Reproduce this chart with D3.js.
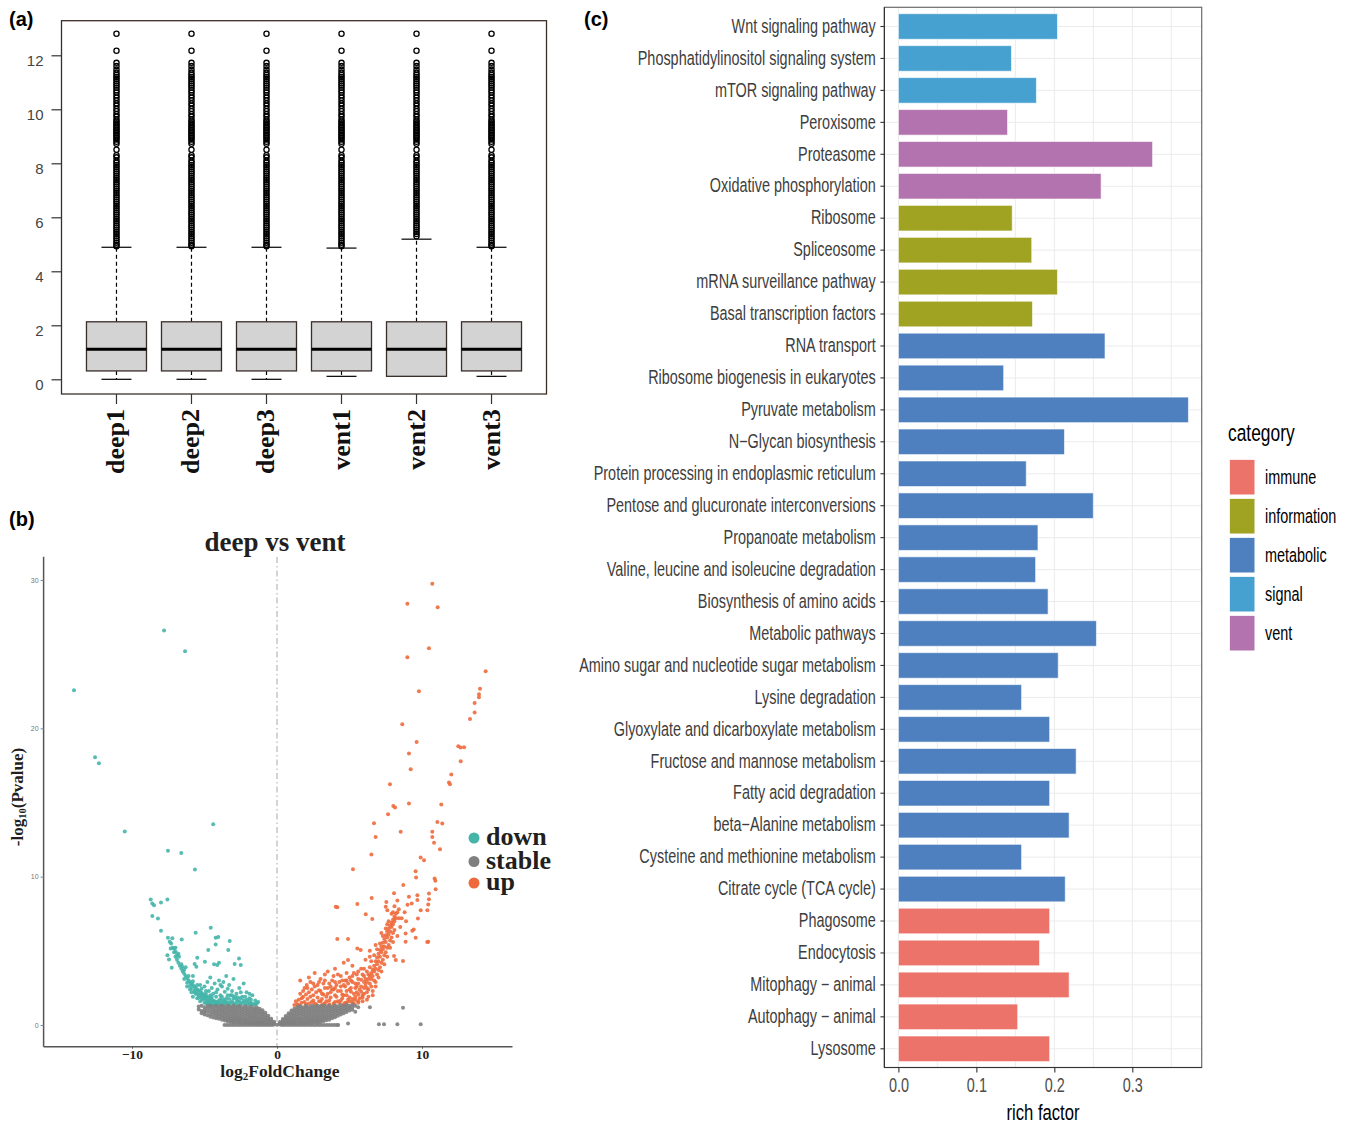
<!DOCTYPE html>
<html>
<head>
<meta charset="utf-8">
<script src="https://cdn.jsdelivr.net/npm/d3@7"></script>
<style>
  body { margin: 0; background: #fff; }
  svg { display: block; }
</style>
</head>
<body>
<svg id="fig" width="1349" height="1126"></svg>
<script>
// ---------- data: (a) boxplot ----------
const sampleNames = ["deep1", "deep2", "deep3", "vent1", "vent2", "vent3"];
const boxQ1 = [0.31, 0.31, 0.31, 0.31, 0.11, 0.31];
const boxMedian = [1.11, 1.11, 1.11, 1.11, 1.11, 1.11];
const boxQ3 = [2.13, 2.13, 2.13, 2.13, 2.13, 2.13];
const whiskerLow = [0, 0, 0, 0.11, 0.11, 0.11];
const whiskerHigh = [4.89, 4.89, 4.89, 4.86, 5.19, 4.89];
// outliers look the same in every sample (dense column above the whisker)
const outlierValues = [12.8, 12.17, 11.72, 11.6, 11.47, 11.36, 11.27, 11.2, 11.12, 11.04, 10.96, 10.88,
  10.8, 10.71, 10.62, 10.52, 10.43, 10.33, 10.22, 10.13, 10.02, 9.93, 9.82, 9.73, 9.62, 9.55, 9.48,
  9.42, 9.36, 9.3, 9.24, 9.18, 9.12, 9.06, 9.0, 8.94, 8.88, 8.8, 8.72, 8.5, 8.3, 8.22, 8.1, 8.02,
  7.94, 7.86, 7.78, 7.7, 7.62, 7.54, 7.46, 7.38, 7.3, 7.22, 7.14, 7.06, 6.98, 6.9, 6.82, 6.74, 6.66,
  6.58, 6.5, 6.42, 6.34, 6.26, 6.18, 6.1, 6.02, 5.94, 5.86, 5.78, 5.7, 5.62, 5.54, 5.46, 5.38, 5.3,
  5.22, 5.14, 5.06, 4.98, 4.93];
const boxTicks = [0, 2, 4, 6, 8, 10, 12];

// ---------- data: (b) volcano ----------
const volcanoGroups = ["down", "stable", "up"];
const volcanoColors = ["#45b5aa", "#7f7f7f", "#ee6a3c"];
const volcanoXTicks = [-10, 0, 10];
const volcanoYTicks = [0, 10, 20, 30];
// stable genes, as columns [log2FC, [-log10 p ...]]
const stableCols = [
  [-5.4, [1.25, 1.05]], [-5.2, [1.3, 0.95, 0.8]], [-5.0, [1.2, 1.0, 0.85, 0.7]],
  [-4.8, [1.28, 1.1, 0.9, 0.65]], [-4.6, [1.3, 1.15, 0.95, 0.75, 0.55]],
  [-4.4, [1.22, 1.05, 0.88, 0.7, 0.5]], [-4.2, [1.3, 1.12, 0.95, 0.8, 0.62, 0.45]],
  [-4.0, [1.25, 1.08, 0.92, 0.75, 0.58, 0.42]], [-3.8, [1.3, 1.15, 1.0, 0.85, 0.68, 0.52, 0.36]],
  [-3.6, [1.22, 1.06, 0.9, 0.74, 0.58, 0.42, 0.3]], [-3.4, [1.3, 1.14, 0.98, 0.82, 0.66, 0.5, 0.35, 0.24]],
  [-3.2, [1.25, 1.08, 0.92, 0.76, 0.6, 0.44, 0.3, 0.2]], [-3.0, [1.3, 1.15, 1.0, 0.84, 0.68, 0.52, 0.38, 0.25, 0.16]],
  [-2.8, [1.22, 1.06, 0.9, 0.74, 0.58, 0.44, 0.3, 0.18]], [-2.6, [1.28, 1.12, 0.96, 0.8, 0.64, 0.48, 0.34, 0.22, 0.14]],
  [-2.4, [1.2, 1.04, 0.88, 0.72, 0.56, 0.42, 0.28, 0.16]], [-2.2, [1.26, 1.1, 0.94, 0.78, 0.62, 0.46, 0.32, 0.2, 0.12]],
  [-2.0, [1.18, 1.02, 0.86, 0.7, 0.54, 0.4, 0.26, 0.14]], [-1.8, [1.24, 1.08, 0.92, 0.76, 0.6, 0.45, 0.3, 0.18, 0.1]],
  [-1.6, [1.15, 1.0, 0.84, 0.68, 0.52, 0.38, 0.24, 0.12]], [-1.4, [1.2, 1.05, 0.9, 0.74, 0.58, 0.42, 0.28, 0.16, 0.08]],
  [-1.2, [1.1, 0.95, 0.8, 0.64, 0.48, 0.34, 0.2, 0.1]], [-1.0, [1.0, 0.85, 0.7, 0.55, 0.4, 0.26, 0.14, 0.06]],
  [-0.8, [0.82, 0.66, 0.5, 0.36, 0.22, 0.1]], [-0.6, [0.62, 0.48, 0.34, 0.2, 0.08]],
  [-0.4, [0.42, 0.3, 0.18, 0.06]], [-0.2, [0.22, 0.12, 0.04]], [0.0, [0.02]],
  [0.2, [0.2, 0.1, 0.04]], [0.4, [0.4, 0.28, 0.16, 0.06]], [0.6, [0.6, 0.46, 0.32, 0.18, 0.08]],
  [0.8, [0.8, 0.64, 0.48, 0.34, 0.2, 0.1]], [1.0, [0.98, 0.82, 0.66, 0.5, 0.36, 0.22, 0.1]],
  [1.2, [1.1, 0.94, 0.78, 0.62, 0.46, 0.32, 0.18, 0.08]], [1.4, [1.22, 1.06, 0.9, 0.74, 0.58, 0.42, 0.28, 0.14]],
  [1.6, [1.28, 1.12, 0.96, 0.8, 0.64, 0.48, 0.34, 0.2, 0.1]], [1.8, [1.2, 1.04, 0.88, 0.72, 0.56, 0.4, 0.26, 0.14]],
  [2.0, [1.3, 1.14, 0.98, 0.82, 0.66, 0.5, 0.36, 0.22, 0.12]], [2.2, [1.22, 1.06, 0.9, 0.74, 0.58, 0.42, 0.28, 0.16]],
  [2.4, [1.3, 1.14, 0.98, 0.82, 0.66, 0.5, 0.36, 0.24, 0.14]], [2.6, [1.24, 1.08, 0.92, 0.76, 0.6, 0.44, 0.3, 0.18]],
  [2.8, [1.3, 1.15, 1.0, 0.84, 0.68, 0.52, 0.38, 0.26, 0.16]], [3.0, [1.26, 1.1, 0.94, 0.78, 0.62, 0.46, 0.32, 0.2]],
  [3.2, [1.32, 1.16, 1.0, 0.84, 0.68, 0.52, 0.38, 0.26]], [3.4, [1.25, 1.08, 0.92, 0.76, 0.6, 0.45, 0.32]],
  [3.6, [1.3, 1.14, 0.98, 0.82, 0.66, 0.5, 0.36]], [3.8, [1.24, 1.08, 0.92, 0.76, 0.6, 0.45]],
  [4.0, [1.32, 1.16, 1.0, 0.84, 0.68, 0.52]], [4.2, [1.26, 1.1, 0.94, 0.78, 0.62]],
  [4.4, [1.34, 1.18, 1.02, 0.86, 0.7]], [4.6, [1.28, 1.12, 0.96, 0.8]], [4.8, [1.36, 1.2, 1.04, 0.88]],
  [5.0, [1.3, 1.14, 0.98]], [5.2, [1.38, 1.2, 1.02]], [5.4, [1.3, 0.9]]
];
// stable genes lying on -log10 p = 0
const stableZeroFc = [-3.62, -3.45, -3.28, -3.1, -2.93, -2.76, -2.58, -2.41, -2.24, -2.06, -1.89, -1.72,
  -1.54, -1.37, -1.2, -1.02, -0.85, -0.68, -0.5, -0.33, 0.33, 0.5, 0.68, 0.85, 1.02, 1.2, 1.37, 1.54,
  1.72, 1.89, 2.06, 2.24, 2.41, 2.58, 2.76, 2.93, 3.1, 3.28, 3.45, 3.62, 3.8, 3.97, 4.14, 4.22];
const stableExtra = [[5.6, 1.2], [6.41, 1.19], [8.69, 1.17], [4.9, 0.1], [7.03, 0.05], [7.38, 0.05],
  [8.3, 0.05], [9.91, 0.05]];
const downPts = [
  [-14.0, 22.56], [-7.79, 26.6], [-6.34, 25.2], [-12.55, 18.05], [-12.28, 17.64], [-10.5, 13.04],
  [-4.4, 13.54], [-7.52, 11.74], [-6.6, 11.6], [-5.66, 10.48], [-8.71, 8.46], [-8.6, 8.19], [-8.48, 8.08],
  [-8.0, 8.26], [-7.56, 8.46], [-8.6, 7.34], [-8.21, 7.18], [-8.0, 6.35], [-5.61, 6.22], [-4.57, 6.55],
  [-7.52, 5.88], [-7.22, 5.84], [-7.4, 5.61], [-6.57, 5.77], [-4.23, 5.88], [-4.05, 5.93], [-4.23, 5.43],
  [-3.26, 5.66], [-7.33, 5.16], [-7.1, 5.16], [-6.99, 4.94], [-7.56, 4.71], [-7.45, 4.42], [-6.76, 4.6],
  [-4.74, 5.05], [-3.36, 5.05], [-5.5, 4.53], [-4.97, 4.26], [-4.0, 4.2], [-4.12, 4.04], [-4.34, 4.09],
  [-2.62, 4.49], [-2.92, 4.11], [-2.5, 4.04], [-7.26, 3.86], [-6.53, 3.93], [-6.41, 3.7], [-5.68, 4.11],
  [-5.56, 3.93],
  [-7.3, 5.5], [-7.2, 5.2], [-7.1, 4.9], [-7.0, 4.6], [-6.9, 4.4], [-6.8, 4.2], [-6.7, 4.0], [-6.6, 3.8],
  [-6.5, 3.6], [-6.4, 3.45], [-6.3, 3.3], [-6.2, 3.15], [-6.1, 3.0], [-6.0, 2.9], [-5.9, 2.8], [-5.8, 2.7],
  [-5.7, 2.6], [-5.6, 2.5], [-5.5, 2.4], [-5.4, 2.32], [-5.3, 2.24], [-5.2, 2.16], [-5.1, 2.08], [-5.0, 2.0],
  [-4.9, 1.94], [-4.8, 1.88], [-4.7, 1.82], [-4.6, 1.76], [-4.5, 1.7], [-4.4, 1.65], [-4.3, 1.6],
  [-4.2, 1.56], [-4.1, 1.52], [-4.0, 1.48], [-3.8, 1.42], [-3.6, 1.38],
  [-6.2, 2.6], [-6.0, 2.4], [-5.9, 2.2], [-5.8, 1.9], [-5.7, 2.35], [-5.6, 2.1], [-5.5, 1.8], [-5.4, 2.05],
  [-5.3, 1.6], [-5.2, 1.9], [-5.1, 1.75], [-5.0, 1.5], [-4.9, 1.7], [-4.8, 1.45], [-4.7, 1.6], [-4.6, 1.4],
  [-4.5, 1.55], [-4.4, 1.38], [-4.3, 1.5], [-4.2, 1.36],
  [-5.0, 2.6], [-4.8, 2.9], [-4.7, 2.3], [-4.6, 3.2], [-4.5, 2.5], [-4.4, 2.1], [-4.3, 2.8], [-4.2, 1.9],
  [-4.1, 2.4], [-4.0, 3.0], [-3.9, 2.0], [-3.8, 2.6], [-3.7, 1.7], [-3.6, 2.25], [-3.5, 3.3], [-3.5, 1.55],
  [-3.4, 2.0], [-3.3, 2.7], [-3.2, 1.5], [-3.1, 2.3], [-3.0, 1.8], [-3.0, 3.1], [-2.9, 1.45], [-2.8, 2.1],
  [-2.7, 1.6], [-2.6, 2.5], [-2.5, 1.4], [-2.4, 1.9], [-2.3, 2.8], [-2.2, 1.55], [-2.1, 2.2], [-2.0, 1.4],
  [-1.9, 1.8], [-1.8, 1.5], [-1.7, 2.0], [-1.6, 1.4], [-1.5, 1.65], [-1.4, 1.45], [-1.3, 1.55], [-3.9, 1.4],
  [-3.3, 1.4], [-2.6, 1.35], [-3.7, 2.9], [-4.9, 2.3], [-5.3, 2.7], [-5.8, 3.3], [-6.3, 3.9], [-6.8, 4.8],
  [-4.6, 2.0], [-3.8, 1.9], [-2.8, 1.7],
  [-6.4, 3.1], [-6.2, 2.85], [-6.0, 2.65], [-5.9, 2.5], [-5.7, 2.2], [-5.6, 2.3], [-5.5, 2.1], [-5.4, 1.85],
  [-5.3, 2.0], [-5.2, 1.7], [-5.1, 1.95], [-5.0, 1.8], [-4.9, 1.5], [-4.8, 1.65], [-4.7, 1.45], [-4.6, 1.6],
  [-4.5, 1.4], [-4.4, 1.5], [-4.3, 1.4], [-4.1, 1.4], [-4.0, 1.65], [-3.9, 1.75], [-3.8, 1.55], [-3.7, 1.45],
  [-3.6, 1.6], [-3.5, 1.8], [-3.4, 1.5], [-3.3, 1.75], [-3.2, 2.0], [-3.1, 1.6], [-3.0, 1.45], [-2.9, 1.9],
  [-2.8, 1.4], [-2.7, 1.85], [-2.6, 1.6], [-2.5, 1.8], [-2.4, 1.5], [-2.3, 1.65], [-2.2, 1.4], [-2.1, 1.7],
  [-2.0, 1.6], [-1.9, 1.45], [-1.8, 1.7], [-1.7, 1.4], [-1.5, 1.4], [-6.1, 3.3], [-6.6, 4.1], [-6.9, 4.7],
  [-7.0, 5.2], [-5.8, 2.95], [-5.5, 2.7], [-5.2, 2.45], [-4.9, 2.1], [-4.5, 1.9], [-4.2, 2.2], [-3.9, 2.7],
  [-3.4, 2.45], [-3.1, 2.0], [-2.5, 2.2], [-2.2, 1.9], [-1.9, 2.1]
];
const upPts = [
  [10.71, 29.74], [8.99, 28.4], [11.08, 28.17], [10.48, 25.4], [8.99, 24.8], [14.39, 23.84], [14.0, 22.67],
  [13.93, 22.3], [13.93, 22.1], [13.63, 21.7], [9.79, 22.5], [13.63, 21.06], [13.31, 20.63], [8.64, 20.27],
  [9.63, 19.08], [12.5, 18.8], [12.67, 18.7], [12.9, 18.72], [9.1, 18.3], [12.67, 17.78], [9.22, 17.24],
  [12.02, 16.88], [11.86, 16.34], [11.93, 16.23], [7.79, 16.23], [8.02, 14.77], [8.14, 14.66], [9.1, 14.93],
  [11.33, 14.86], [7.66, 14.2], [6.69, 13.6], [11.06, 13.69], [11.4, 13.58], [6.8, 12.68], [8.53, 13.02],
  [10.71, 13.02], [10.71, 12.68], [10.83, 12.28], [11.24, 11.85], [6.51, 11.49], [9.91, 11.29], [10.14, 11.11],
  [5.24, 10.5], [9.56, 10.37], [9.59, 9.94], [10.87, 9.88], [10.92, 9.72], [8.71, 9.43], [8.07, 8.89],
  [10.94, 9.16], [10.48, 8.87], [10.48, 8.48], [10.43, 8.13], [10.37, 7.74], [9.68, 8.75], [9.68, 8.42],
  [9.1, 8.64], [9.29, 8.19], [5.54, 8.15], [6.53, 8.57], [7.54, 8.3], [7.5, 7.97], [7.61, 7.74], [4.05, 7.97],
  [4.16, 7.93], [6.12, 7.47], [6.57, 7.14], [9.91, 7.74], [9.72, 7.18], [9.43, 6.44], [9.33, 6.35],
  [8.87, 6.17], [8.87, 5.61], [9.56, 5.88], [10.43, 5.61], [10.36, 5.59], [4.16, 5.79], [4.9, 5.79],
  [5.54, 5.16], [5.77, 5.05], [4.9, 4.38], [8.69, 4.31], [8.07, 4.65], [8.19, 4.38],
  [4.6, 1.4], [4.8, 1.5], [5.0, 1.6], [5.2, 1.75], [5.4, 1.9], [5.6, 2.05], [5.8, 2.25], [6.0, 2.5],
  [6.1, 2.7], [6.2, 2.9], [6.3, 3.1], [6.4, 3.3], [6.5, 3.5], [6.6, 3.75], [6.7, 4.0], [6.8, 4.3],
  [6.9, 4.55], [7.0, 4.8], [7.1, 5.05], [7.2, 5.3], [7.3, 5.55], [7.4, 5.8], [7.5, 6.05], [7.6, 6.3],
  [7.7, 6.5], [7.8, 6.7], [7.9, 6.9], [8.0, 7.1], [8.1, 7.3], [8.2, 7.5],
  [4.2, 1.6], [4.5, 1.8], [4.8, 2.0], [5.1, 2.25], [5.4, 2.5], [5.6, 2.8], [5.8, 3.05], [6.0, 3.3],
  [6.2, 3.6], [6.4, 3.9], [6.5, 4.3], [6.7, 4.7], [6.9, 5.1], [7.1, 5.5], [7.3, 6.0], [7.5, 6.5],
  [7.7, 7.0], [7.9, 7.5], [8.1, 8.0], [8.3, 8.4],
  [5.3, 1.45], [5.6, 1.6], [5.9, 1.85], [6.2, 2.2], [6.5, 2.6], [6.7, 3.0], [6.9, 3.4], [7.1, 3.9],
  [7.3, 4.4], [7.5, 4.9], [7.7, 5.4], [7.9, 5.9], [8.1, 6.4],
  [1.4, 1.4], [1.5, 1.7], [1.6, 2.1], [1.7, 1.5], [1.8, 1.9], [1.9, 2.5], [2.0, 1.4], [2.1, 1.75],
  [2.2, 2.2], [2.3, 2.9], [2.4, 1.55], [2.5, 2.0], [2.6, 2.6], [2.7, 1.4], [2.8, 1.85], [2.9, 2.35],
  [3.0, 3.1], [3.0, 1.6], [3.1, 2.1], [3.2, 2.8], [3.3, 1.45], [3.4, 1.9], [3.5, 2.5], [3.5, 3.6],
  [3.6, 1.65], [3.7, 2.2], [3.8, 3.0], [3.9, 1.45], [4.0, 2.0], [4.1, 2.7], [4.2, 3.4], [4.3, 1.5],
  [4.4, 2.3], [4.5, 3.0], [4.6, 2.0], [4.7, 2.6], [4.8, 3.5], [4.9, 1.7], [5.0, 2.4], [5.1, 3.0],
  [5.2, 4.0], [5.3, 2.1], [5.4, 2.8], [5.5, 3.4], [5.6, 1.5], [5.7, 2.4], [5.8, 3.8], [5.9, 2.0],
  [6.0, 2.9], [6.1, 4.4], [6.2, 1.7], [6.3, 2.4], [6.4, 5.0], [6.6, 2.0], [6.8, 2.6], [7.0, 3.2],
  [7.2, 3.6], [7.4, 4.1], [7.6, 4.6], [7.8, 5.2], [8.0, 5.6], [8.3, 6.0], [8.5, 6.6], [8.6, 7.2],
  [8.8, 7.6], [9.0, 8.1], [8.4, 7.8], [8.9, 7.0], [2.2, 3.2], [1.6, 3.0], [2.6, 3.5], [3.3, 3.4],
  [4.0, 3.8], [4.6, 4.2], [3.1, 1.35], [3.9, 2.4], [2.05, 2.7], [1.3, 1.6], [1.2, 1.35],
  [1.5, 1.35], [1.7, 1.8], [1.9, 1.55], [2.0, 2.05], [2.2, 1.45], [2.3, 1.9], [2.4, 2.4], [2.5, 1.65],
  [2.6, 1.45], [2.7, 2.2], [2.8, 2.7], [2.9, 1.6], [3.0, 2.3], [3.1, 1.75], [3.2, 2.05], [3.2, 1.4],
  [3.3, 2.5], [3.4, 1.6], [3.5, 2.1], [3.6, 2.8], [3.6, 1.4], [3.7, 1.85], [3.8, 2.4], [3.9, 3.3],
  [4.0, 1.55], [4.0, 2.5], [4.1, 1.9], [4.2, 2.3], [4.3, 2.9], [4.4, 1.65], [4.4, 3.3], [4.5, 2.05],
  [4.6, 2.7], [4.7, 1.5], [4.7, 3.0], [4.8, 2.3], [4.9, 2.8], [5.0, 1.85], [5.0, 3.2], [5.1, 2.5],
  [5.2, 1.55], [5.2, 2.9], [5.3, 3.5], [5.4, 1.7], [5.5, 2.2], [5.5, 2.6], [5.6, 3.1], [5.7, 1.8],
  [5.8, 2.6], [5.9, 3.4], [5.9, 1.6], [6.0, 2.1], [6.1, 3.1], [6.2, 2.5], [6.3, 3.4], [6.3, 1.9],
  [6.4, 2.8], [6.5, 3.1], [6.6, 3.3], [6.6, 2.3], [6.7, 3.6], [6.8, 3.8], [6.8, 2.9], [6.9, 4.1],
  [7.0, 4.3], [7.0, 3.7], [7.1, 4.6], [7.2, 4.9], [7.2, 4.2], [7.3, 5.1], [7.4, 5.3], [7.4, 4.7],
  [7.5, 5.6], [7.6, 5.9], [7.6, 5.2], [7.7, 6.1], [7.8, 6.3], [7.8, 5.7], [7.9, 6.6], [8.0, 6.8],
  [8.0, 6.2], [8.1, 7.0], [8.2, 7.2], [8.3, 7.6], [8.4, 7.2], [8.0, 7.6], [7.6, 6.8], [7.2, 6.2],
  [6.8, 5.4], [6.4, 4.6], [6.0, 3.8], [5.6, 3.6], [5.2, 3.3], [4.8, 3.0], [4.4, 2.6], [4.0, 2.9],
  [3.7, 2.6], [3.3, 3.0], [2.9, 2.9], [2.5, 2.8], [2.1, 2.5], [1.8, 2.3]
];

// ---------- data: (c) enrichment ----------
const pathways = ["Wnt signaling pathway", "Phosphatidylinositol signaling system", "mTOR signaling pathway",
  "Peroxisome", "Proteasome", "Oxidative phosphorylation", "Ribosome", "Spliceosome",
  "mRNA surveillance pathway", "Basal transcription factors", "RNA transport",
  "Ribosome biogenesis in eukaryotes", "Pyruvate metabolism", "N\u2212Glycan biosynthesis",
  "Protein processing in endoplasmic reticulum", "Pentose and glucuronate interconversions",
  "Propanoate metabolism", "Valine, leucine and isoleucine degradation", "Biosynthesis of amino acids",
  "Metabolic pathways", "Amino sugar and nucleotide sugar metabolism", "Lysine degradation",
  "Glyoxylate and dicarboxylate metabolism", "Fructose and mannose metabolism", "Fatty acid degradation",
  "beta\u2212Alanine metabolism", "Cysteine and methionine metabolism", "Citrate cycle (TCA cycle)",
  "Phagosome", "Endocytosis", "Mitophagy \u2212 animal", "Autophagy \u2212 animal", "Lysosome"];
const pathwayCategory = ["signal", "signal", "signal", "vent", "vent", "vent", "information", "information",
  "information", "information", "metabolic", "metabolic", "metabolic", "metabolic", "metabolic", "metabolic",
  "metabolic", "metabolic", "metabolic", "metabolic", "metabolic", "metabolic", "metabolic", "metabolic",
  "metabolic", "metabolic", "metabolic", "metabolic", "immune", "immune", "immune", "immune", "immune"];
const richFactor = [0.204, 0.145, 0.177, 0.140, 0.326, 0.260, 0.146, 0.171, 0.204, 0.172, 0.265, 0.135,
  0.372, 0.213, 0.164, 0.250, 0.179, 0.176, 0.192, 0.254, 0.205, 0.158, 0.194, 0.228, 0.194, 0.219,
  0.158, 0.214, 0.194, 0.181, 0.219, 0.153, 0.194];
const categories = ["immune", "information", "metabolic", "signal", "vent"];
const categoryColors = ["#ec736a", "#a0a222", "#4e80bf", "#46a0d0", "#b373ae"];
const richTicks = [0, 0.1, 0.2, 0.3];
const richGrid = [0, 0.05, 0.1, 0.15, 0.2, 0.25, 0.3, 0.35];

// ---------- drawing ----------
const svg = d3.select("#fig");
svg.append("rect").attr("width", 1349).attr("height", 1126).attr("fill", "#fff");

const SERIF = "'Liberation Serif', 'Times New Roman', serif";
const SANS = "'Liberation Sans', Arial, sans-serif";
const NARROW = 0.74;

function panelTag(x, y, t) {
  svg.append("text").attr("x", x).attr("y", y).attr("font-family", SANS)
    .attr("font-weight", "bold").attr("font-size", 20).attr("fill", "#000").text(t);
}
panelTag(9, 26, "(a)");
panelTag(9, 526, "(b)");
panelTag(584, 26, "(c)");

// ===== (a) boxplot =====
function drawBoxplot() {
  const g = svg.append("g");
  const x = d3.scaleBand().domain(sampleNames).range([61.5, 546.5])
    .paddingInner(0.2).paddingOuter(0.333);
  const y = d3.scaleLinear().domain([0, 12]).range([379.3, 55.3]);
  const bw = x.bandwidth();

  const boxes = sampleNames.map((s, i) => ({
    name: s, q1: boxQ1[i], med: boxMedian[i], q3: boxQ3[i], lo: whiskerLow[i], hi: whiskerHigh[i]
  }));

  const b = g.selectAll(".bx").data(boxes).enter().append("g");
  const cx = d => x(d.name) + bw / 2;

  // whiskers
  b.append("line").attr("x1", cx).attr("x2", cx)
    .attr("y1", d => y(d.q3)).attr("y2", d => y(d.hi))
    .attr("stroke", "#000").attr("stroke-width", 1.2).attr("stroke-dasharray", "4,3");
  b.append("line").attr("x1", cx).attr("x2", cx)
    .attr("y1", d => y(d.q1)).attr("y2", d => y(d.lo))
    .attr("stroke", "#000").attr("stroke-width", 1.2).attr("stroke-dasharray", "4,3");
  b.append("line").attr("x1", d => cx(d) - bw / 4).attr("x2", d => cx(d) + bw / 4)
    .attr("y1", d => y(d.hi)).attr("y2", d => y(d.hi)).attr("stroke", "#000").attr("stroke-width", 1.2);
  b.append("line").attr("x1", d => cx(d) - bw / 4).attr("x2", d => cx(d) + bw / 4)
    .attr("y1", d => y(d.lo)).attr("y2", d => y(d.lo)).attr("stroke", "#000").attr("stroke-width", 1.2);

  // boxes
  b.append("rect").attr("x", d => x(d.name)).attr("width", bw)
    .attr("y", d => y(d.q3)).attr("height", d => y(d.q1) - y(d.q3))
    .attr("fill", "#d3d3d3").attr("stroke", "#3a2e2a").attr("stroke-width", 1.3);
  b.append("line").attr("x1", d => x(d.name)).attr("x2", d => x(d.name) + bw)
    .attr("y1", d => y(d.med)).attr("y2", d => y(d.med))
    .attr("stroke", "#000").attr("stroke-width", 3);

  // outliers
  b.each(function (d) {
    d3.select(this).selectAll("circle")
      .data(outlierValues.filter(v => v > d.hi + 0.03))
      .enter().append("circle")
      .attr("cx", cx(d)).attr("cy", v => y(v)).attr("r", 2.6)
      .attr("fill", "none").attr("stroke", "#000").attr("stroke-width", 1.3);
  });

  // frame
  g.append("rect").attr("x", 61.5).attr("y", 20.7).attr("width", 485).attr("height", 373.3)
    .attr("fill", "none").attr("stroke", "#3c3028").attr("stroke-width", 1.3);

  // y axis
  const ya = g.append("g").attr("transform", "translate(61.5,0)")
    .call(d3.axisLeft(y).tickValues(boxTicks).tickSize(10).tickPadding(8).tickFormat(d3.format("d")));
  ya.select(".domain").remove();
  ya.selectAll("line").attr("stroke", "#333").attr("stroke-width", 1.2);
  ya.selectAll("text").attr("font-family", SANS).attr("font-size", 15).attr("fill", "#444")
    .attr("dy", "0.65em");

  // x ticks and labels
  g.selectAll(".xt").data(sampleNames).enter().append("line")
    .attr("x1", d => x(d) + bw / 2).attr("x2", d => x(d) + bw / 2)
    .attr("y1", 394).attr("y2", 404).attr("stroke", "#333").attr("stroke-width", 1.2);
  g.selectAll(".xl").data(sampleNames).enter().append("text")
    .attr("transform", d => `translate(${x(d) + bw / 2 + 8},409) rotate(-90)`)
    .attr("text-anchor", "end").attr("font-family", SERIF).attr("font-weight", "bold")
    .attr("font-size", 26).attr("fill", "#111").text(d => d);
}
drawBoxplot();

// ===== (b) volcano =====
function drawVolcano() {
  const g = svg.append("g");
  const x = d3.scaleLinear().domain([-10, 10]).range([132, 422]);
  const y = d3.scaleLinear().domain([0, 30]).range([1025, 580]);
  const color = d3.scaleOrdinal().domain(volcanoGroups).range(volcanoColors);

  const stable = [];
  stableCols.forEach(([fc, ps]) => ps.forEach(p => stable.push([fc, p])));
  stableZeroFc.forEach(fc => stable.push([fc, 0]));
  stableExtra.forEach(d => stable.push(d));

  // dashed line at 0
  g.append("line").attr("x1", x(0)).attr("x2", x(0)).attr("y1", 557).attr("y2", 1046)
    .attr("stroke", "#bdbdbd").attr("stroke-width", 1.3).attr("stroke-dasharray", "6,3,1.5,3");

  const layers = [["down", downPts], ["up", upPts], ["stable", stable]];
  layers.forEach(([grp, pts]) => {
    g.append("g").selectAll("circle").data(pts).enter().append("circle")
      .attr("cx", d => x(d[0])).attr("cy", d => y(d[1])).attr("r", 2)
      .attr("fill", color(grp)).attr("opacity", 0.9);
  });

  // axes
  g.append("line").attr("x1", 43.6).attr("x2", 43.6).attr("y1", 556.7).attr("y2", 1046.7)
    .attr("stroke", "#555").attr("stroke-width", 1.5);
  g.append("line").attr("x1", 43.6).attr("x2", 512.5).attr("y1", 1046.7).attr("y2", 1046.7)
    .attr("stroke", "#555").attr("stroke-width", 1.5);

  const ya = g.append("g").attr("transform", "translate(43.6,0)")
    .call(d3.axisLeft(y).tickValues(volcanoYTicks).tickSize(3).tickPadding(2));
  ya.select(".domain").remove();
  ya.selectAll("line").attr("stroke", "#888");
  ya.selectAll("text").attr("font-family", SANS).attr("font-size", 7).attr("fill", "#777");

  const xa = g.append("g").attr("transform", "translate(0,1046.7)")
    .call(d3.axisBottom(x).tickValues(volcanoXTicks).tickSize(2).tickPadding(1));
  xa.select(".domain").remove();
  xa.selectAll("line").attr("stroke", "#555");
  xa.selectAll("text").attr("font-family", SERIF).attr("font-weight", "bold")
    .attr("font-size", 13.5).attr("fill", "#222");

  // title & labels
  g.append("text").attr("x", 275).attr("y", 551).attr("text-anchor", "middle")
    .attr("font-family", SERIF).attr("font-weight", "bold").attr("font-size", 27)
    .attr("fill", "#231f20").text("deep vs vent");

  const xl = g.append("text").attr("x", 280).attr("y", 1077).attr("text-anchor", "middle")
    .attr("font-family", SERIF).attr("font-weight", "bold").attr("font-size", 17.5).attr("fill", "#231f20");
  xl.append("tspan").text("log");
  xl.append("tspan").attr("font-size", 11).attr("dy", 3).text("2");
  xl.append("tspan").attr("dy", -3).text("FoldChange");

  const yl = g.append("text").attr("transform", "translate(23,797) rotate(-90)")
    .attr("text-anchor", "middle").attr("font-family", SERIF).attr("font-weight", "bold")
    .attr("font-size", 17).attr("fill", "#231f20");
  yl.append("tspan").text("-log");
  yl.append("tspan").attr("font-size", 10.5).attr("dy", 3).text("10");
  yl.append("tspan").attr("dy", -3).text("(Pvalue)");

  // legend
  const lg = g.append("g");
  const ly = [838, 861.5, 883];
  volcanoGroups.forEach((grp, i) => {
    lg.append("circle").attr("cx", 474).attr("cy", ly[i]).attr("r", 5.5).attr("fill", color(grp));
    lg.append("text").attr("x", 486).attr("y", ly[i] + 7).attr("font-family", SERIF)
      .attr("font-weight", "bold").attr("font-size", 26).attr("fill", "#231f20").text(grp);
  });
}
drawVolcano();

// ===== (c) enrichment bars =====
function drawEnrichment() {
  const g = svg.append("g");
  const left = 884.4, right = 1201.7, top = 7.3, bottom = 1067.5;
  const x = d3.scaleLinear().domain([0, 0.3]).range([898.4, 1132.3]);
  const y = d3.scaleBand().domain(pathways).range([10.53, 1064.77]).paddingInner(0.2).paddingOuter(0.1);
  const color = d3.scaleOrdinal().domain(categories).range(categoryColors);

  const rows = pathways.map((p, i) => ({ name: p, cat: pathwayCategory[i], v: richFactor[i] }));

  // grid
  g.selectAll(".gv").data(richGrid).enter().append("line")
    .attr("x1", d => x(d)).attr("x2", d => x(d)).attr("y1", top).attr("y2", bottom)
    .attr("stroke", "#ebebeb").attr("stroke-width", 1);
  g.selectAll(".gh").data(pathways).enter().append("line")
    .attr("x1", left).attr("x2", right)
    .attr("y1", d => y(d) + y.bandwidth() / 2).attr("y2", d => y(d) + y.bandwidth() / 2)
    .attr("stroke", "#ebebeb").attr("stroke-width", 1);

  // bars
  g.selectAll(".bar").data(rows).enter().append("rect")
    .attr("x", x(0)).attr("y", d => y(d.name))
    .attr("width", d => x(d.v) - x(0)).attr("height", y.bandwidth())
    .attr("fill", d => color(d.cat)).attr("stroke", "#ffffff").attr("stroke-opacity", 0.6)
    .attr("stroke-width", 1);

  // frame
  g.append("rect").attr("x", left).attr("y", top).attr("width", right - left).attr("height", bottom - top)
    .attr("fill", "none").attr("stroke", "#6b6b6b").attr("stroke-width", 1.2);
  g.append("line").attr("x1", left).attr("x2", left).attr("y1", top).attr("y2", bottom)
    .attr("stroke", "#333").attr("stroke-width", 1.2);
  g.append("line").attr("x1", left).attr("x2", right).attr("y1", bottom).attr("y2", bottom)
    .attr("stroke", "#333").attr("stroke-width", 1.2);

  // y axis
  const ya = g.append("g").attr("transform", `translate(${left},0)`)
    .call(d3.axisLeft(y).tickSize(4).tickPadding(4));
  ya.select(".domain").remove();
  ya.selectAll("line").attr("stroke", "#333").attr("stroke-width", 1.1);
  ya.selectAll("text").attr("x", -8.6 / NARROW).attr("transform", `scale(${NARROW},1)`)
    .attr("font-family", SANS).attr("font-size", 19.5).attr("fill", "#3d3d3d");

  // x axis
  const xa = g.append("g").attr("transform", `translate(0,${bottom})`)
    .call(d3.axisBottom(x).tickValues(richTicks).tickSize(5).tickPadding(6).tickFormat(d3.format(".1f")));
  xa.select(".domain").remove();
  xa.selectAll("line").attr("stroke", "#333").attr("stroke-width", 1.1);
  xa.selectAll("text").attr("transform", `scale(${NARROW},1)`)
    .attr("font-family", SANS).attr("font-size", 19.5).attr("fill", "#4d4d4d");

  g.append("text").attr("transform", `translate(1043,1120) scale(${NARROW},1)`)
    .attr("text-anchor", "middle").attr("font-family", SANS).attr("font-size", 22.5)
    .attr("fill", "#000").text("rich factor");

  // legend
  const lg = g.append("g");
  lg.append("text").attr("transform", `translate(1228,441) scale(${NARROW},1)`)
    .attr("font-family", SANS).attr("font-size", 23.5).attr("fill", "#000").text("category");
  categories.forEach((c, i) => {
    const ky = 459.3 + i * 39;
    lg.append("rect").attr("x", 1229.3).attr("y", ky).attr("width", 25.7).attr("height", 35.7)
      .attr("fill", color(c)).attr("stroke", "#fff").attr("stroke-width", 1);
    lg.append("text").attr("transform", `translate(1265,${ky + 17.85}) scale(${NARROW},1)`)
      .attr("dy", "0.35em").attr("font-family", SANS).attr("font-size", 19.5).attr("fill", "#000").text(c);
  });
}
drawEnrichment();
</script>
</body>
</html>
